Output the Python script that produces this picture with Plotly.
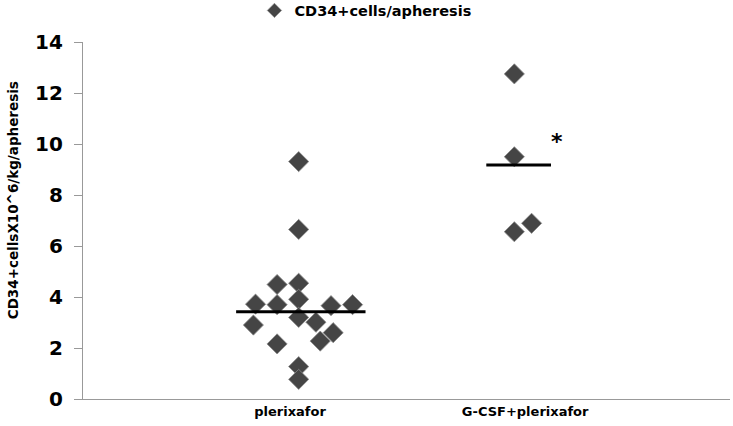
import plotly.graph_objects as go

# ---- data ----
categories = ["plerixafor", "G-CSF+plerixafor"]
category_pos = [1, 2]

pler_x = [1.0, 1.0, 0.9, 1.0, 1.0, 0.8, 0.9, 1.15, 1.25, 1.0, 1.08, 0.79, 1.16, 1.1, 0.9, 1.0, 1.0]
pler_y = [9.31, 6.65, 4.49, 4.54, 3.91, 3.72, 3.70, 3.66, 3.70, 3.20, 3.01, 2.90, 2.60, 2.27, 2.16, 1.27, 0.77]

gcsf_x = [2.0, 2.0, 2.0, 2.08]
gcsf_y = [12.75, 9.50, 6.56, 6.89]

pler_median = 3.42
pler_median_span = [0.71, 1.31]
gcsf_median = 9.18
gcsf_median_span = [1.87, 2.17]

sig_x = 2.19
sig_y = 10.1

y_ticks = [0, 2, 4, 6, 8, 10, 12, 14]

# label placement (layout only)
LABEL_POS = [0.96, 2.05]

MARKER = dict(symbol="diamond", size=15.5, color="#454545",
              line=dict(color="#8a8a8a", width=0.8))
BOLD = "DejaVu Sans"

fig = go.Figure()
fig.add_trace(go.Scatter(x=pler_x, y=pler_y, mode="markers", marker=MARKER,
                         showlegend=False, hoverinfo="y"))
fig.add_trace(go.Scatter(x=gcsf_x, y=gcsf_y, mode="markers", marker=MARKER,
                         showlegend=False, hoverinfo="y"))
fig.add_trace(go.Scatter(x=pler_median_span, y=[pler_median, pler_median], mode="lines",
                         line=dict(color="black", width=3), showlegend=False))
fig.add_trace(go.Scatter(x=gcsf_median_span, y=[gcsf_median, gcsf_median], mode="lines",
                         line=dict(color="black", width=3), showlegend=False))
# legend entry
fig.add_trace(go.Scatter(x=[None], y=[None], mode="markers", name="CD34+cells/apheresis",
                         marker=dict(symbol="diamond", size=11, color="#454545",
                                     line=dict(color="#8a8a8a", width=0.8))))

fig.add_annotation(x=sig_x, y=sig_y, text="*", showarrow=False,
                   xanchor="center", yanchor="middle",
                   font=dict(family=BOLD, size=22, color="black", weight="bold"),
                   xshift=2)
fig.add_annotation(xref="paper", yref="paper", x=-0.108, y=0.557,
                   xanchor="center", yanchor="middle",
                   text="CD34+cellsX10^6/kg/apheresis", textangle=-90, showarrow=False,
                   font=dict(family=BOLD, size=13.5, color="black", weight="bold"))

fig.update_layout(
    width=733, height=426,
    margin=dict(l=83, r=3, t=42, b=27, autoexpand=False),
    paper_bgcolor="white", plot_bgcolor="white",
    font=dict(family=BOLD, color="black"),
    legend=dict(orientation="h", x=0.265, xanchor="left", y=1.133, yanchor="top",
                font=dict(family=BOLD, size=14.5, color="black", weight="bold"),
                bgcolor="rgba(0,0,0,0)", itemsizing="trace"),
    xaxis=dict(range=[0, 3], tickvals=LABEL_POS, ticktext=categories,
               showgrid=False, zeroline=False, showline=True, linecolor="#999999",
               linewidth=1.2, ticks="",
               tickfont=dict(family=BOLD, size=13, color="black", weight="bold")),
    yaxis=dict(range=[0, 14], tickvals=y_ticks, showgrid=False, zeroline=False,
               showline=True, linecolor="#999999", linewidth=1.2,
               ticks="outside", ticklen=8, tickcolor="#999999", ticklabelstandoff=7,
               tickfont=dict(family=BOLD, size=20, color="black", weight="bold")),
)

fig.write_html("out.html", config={"displayModeBar": False},
               post_script="document.body.style.margin='0';")
